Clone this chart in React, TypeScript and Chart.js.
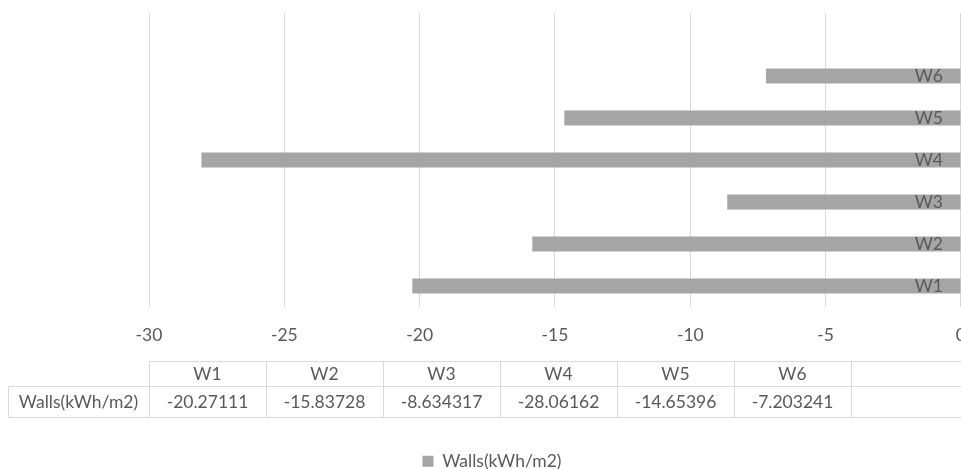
import React, { useEffect, useRef } from 'react';
import { Chart, registerables } from 'chart.js';

Chart.register(...registerables);

// Wall heat balance per wall segment
const categories = ['W1', 'W2', 'W3', 'W4', 'W5', 'W6'];
const wallValues = [-20.27111, -15.83728, -8.634317, -28.06162, -14.65396, -7.203241];
const seriesName = 'Walls(kWh/m2)';
const xTickMin = -30;
const xTickMax = 0;
const xTickStep = 5;

// category axis keeps one blank slot on top, as does the data table
const axisLabels = [...categories, ''];

const FONT = 'Lato, "Liberation Sans", sans-serif';
const FONT_SIZE = 17.5;
const TEXT = '#595959';
const GRID = '#d9d9d9';
const BAR = '#a5a5a5';

const CANVAS_W = 984;
const CANVAS_H = 480;

const tablePlugin = {
  id: 'labelsAndTable',
  afterDatasetsDraw(chart: any) {
    const { ctx, scales } = chart;
    const x = scales.x;
    const y = scales.y;
    ctx.save();
    ctx.font = `${FONT_SIZE}px ${FONT}`;
    ctx.fillStyle = TEXT;
    ctx.textAlign = 'right';
    ctx.textBaseline = 'middle';
    const x0 = x.getPixelForValue(0);
    categories.forEach((c, i) => {
      ctx.fillText(c, x0 - 18, y.getPixelForValue(i));
    });
    ctx.restore();
  },
  afterDraw(chart: any) {
    const { ctx, chartArea } = chart;
    const left = chartArea.left;
    const labelLeft = 8;
    const colW = 117;
    const top = chartArea.bottom + 54;
    const headH = 25;
    const rowH = 31;
    const mid = top + headH;
    const bottom = mid + rowH;
    const nCols = axisLabels.length;
    const right = left + nCols * colW;
    const p = (v: number) => Math.round(v) + 0.5;

    ctx.save();
    ctx.strokeStyle = GRID;
    ctx.lineWidth = 1;
    ctx.beginPath();
    ctx.moveTo(p(left), p(top));
    ctx.lineTo(right, p(top));
    ctx.moveTo(p(labelLeft), p(mid));
    ctx.lineTo(right, p(mid));
    ctx.moveTo(p(labelLeft), p(bottom));
    ctx.lineTo(right, p(bottom));
    ctx.moveTo(p(labelLeft), p(mid));
    ctx.lineTo(p(labelLeft), p(bottom));
    for (let k = 0; k <= nCols; k++) {
      const cx = p(left + k * colW);
      ctx.moveTo(cx, p(top));
      ctx.lineTo(cx, p(bottom));
    }
    ctx.stroke();

    ctx.font = `${FONT_SIZE}px ${FONT}`;
    ctx.fillStyle = TEXT;
    ctx.textAlign = 'center';
    ctx.textBaseline = 'middle';
    axisLabels.forEach((c, i) => {
      const cx = left + (i + 0.5) * colW;
      ctx.fillText(c, cx, top + headH / 2 + 1);
      if (i < wallValues.length) {
        ctx.fillText(String(wallValues[i]), cx, mid + rowH / 2 + 1);
      }
    });
    ctx.fillText(seriesName, (labelLeft + left) / 2, mid + rowH / 2 + 1);
    ctx.restore();
  },
};

export default function App() {
  const canvasRef = useRef<HTMLCanvasElement | null>(null);

  useEffect(() => {
    if (!canvasRef.current) return;
    const chart = new Chart(canvasRef.current, {
      type: 'bar',
      data: {
        labels: axisLabels,
        datasets: [
          {
            label: seriesName,
            data: [...wallValues, null],
            backgroundColor: BAR,
            borderWidth: 0,
            categoryPercentage: 0.4,
            barPercentage: 0.9,
          },
        ],
      },
      options: {
        indexAxis: 'y',
        responsive: false,
        animation: false,
        layout: { padding: { top: 13, left: 0, right: 0, bottom: 0 } },
        scales: {
          x: {
            type: 'linear',
            position: 'bottom',
            min: xTickMin,
            max: xTickMax,
            ticks: {
              stepSize: xTickStep,
              color: TEXT,
              font: { family: FONT, size: FONT_SIZE },
              padding: 18,
            },
            grid: { color: GRID, lineWidth: 1, drawTicks: false },
            border: { display: false },
            afterFit: (s: any) => {
              s.height = 135.5;
            },
          },
          y: {
            type: 'category',
            position: 'left',
            reverse: true,
            ticks: { display: false },
            grid: { display: false },
            border: { display: false },
            afterFit: (s: any) => {
              s.width = 149;
            },
          },
          yRight: {
            axis: 'y',
            type: 'linear',
            position: 'right',
            ticks: { display: false },
            grid: { display: false },
            border: { display: false },
            afterFit: (s: any) => {
              s.width = CANVAS_W - 961;
            },
          },
        },
        plugins: {
          legend: {
            position: 'bottom',
            labels: {
              boxWidth: 11,
              boxHeight: 11,
              color: TEXT,
              padding: 10,
              font: { family: FONT, size: FONT_SIZE },
            },
          },
          tooltip: { enabled: false },
        },
      } as any,
      plugins: [tablePlugin],
    });
    return () => chart.destroy();
  }, []);

  return (
    <div
      style={{
        position: 'absolute',
        left: 0,
        top: 0,
        width: 961,
        height: 469,
        overflow: 'hidden',
        background: '#ffffff',
      }}
    >
      <canvas
        ref={canvasRef}
        width={CANVAS_W}
        height={CANVAS_H}
        style={{ display: 'block', width: CANVAS_W, height: CANVAS_H }}
      />
    </div>
  );
}
